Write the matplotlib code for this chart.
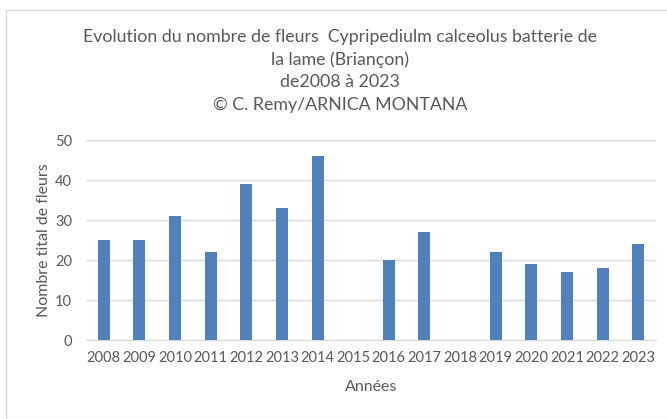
import numpy as np
import matplotlib
matplotlib.use('Agg')
from matplotlib import pyplot as plt
from matplotlib.patches import Rectangle

# Data (2015 and 2018 have no bar)
years = ['2008', '2009', '2010', '2011', '2012', '2013', '2014', '2015',
         '2016', '2017', '2018', '2019', '2020', '2021', '2022', '2023']
flowers = [25, 25, 31, 22, 39, 33, 46, np.nan, 20, 27, np.nan, 22, 19, 17, 18, 24]

title_lines = ['Evolution du nombre de fleurs  Cypripediulm calceolus batterie de',
               'la lame (Briançon)',
               'de2008 à 2023',
               '© C. Remy/ARNICA MONTANA']

plt.rcParams['font.family'] = ['Lato', 'DejaVu Sans']
grey = '#595959'

fig = plt.figure(figsize=(6.67, 4.19), dpi=100)
W, H = 667, 419

# outer chart border
fig.patches.append(Rectangle((6 / W, 0.5 / H), 1, (H - 10.5) / H, transform=fig.transFigure,
                             fill=False, edgecolor='#D9D9D9', lw=1))

ax = fig.add_axes([86 / W, (H - 340) / H, (656 - 86) / W, 200 / H])
x = np.arange(len(years))
ax.bar(x, flowers, width=0.34, color='#4F81BD', zorder=3)

ax.set_ylim(0, 50)
ax.set_xlim(-0.5, len(years) - 0.5)
ax.set_yticks(range(0, 51, 10))
ax.set_xticks(x)
ax.set_xticklabels(years)
ax.yaxis.grid(True, color='#D9D9D9', lw=1, zorder=0)
for s in ['top', 'right', 'left']:
    ax.spines[s].set_visible(False)
ax.spines['bottom'].set_color('#D9D9D9')
ax.tick_params(axis='both', length=0, labelsize=10.5, colors=grey, pad=8)
ax.tick_params(axis='y', pad=10)

ax.set_xlabel('Années', fontsize=11.5, color=grey, labelpad=11)
ax.set_ylabel('Nombre tital de fleurs', fontsize=11.5, color=grey, labelpad=3)

for i, line in enumerate(title_lines):
    fig.text(340 / W, 1 - (37 + 22.5 * i) / H, line, ha='center', va='center',
             fontsize=12.8, color=grey)

fig.savefig('out.png', dpi=100)
